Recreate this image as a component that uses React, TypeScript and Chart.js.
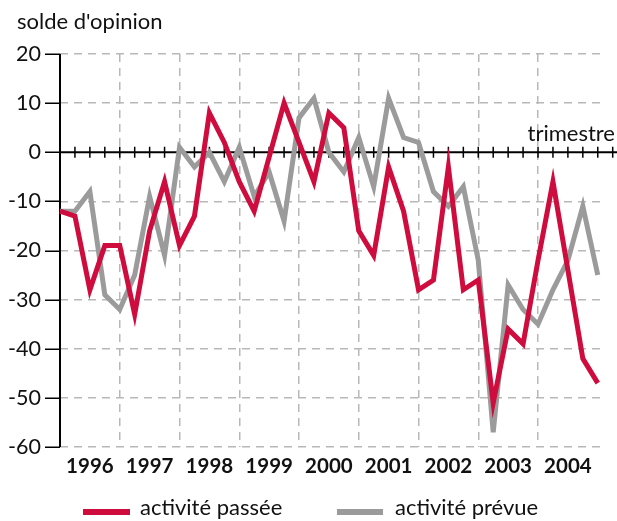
import React, { useEffect, useRef } from 'react';
import { Chart, registerables } from 'chart.js';

Chart.register(...registerables);

// Year labels (one per year, 4 quarters each)
const years = ['1996', '1997', '1998', '1999', '2000', '2001', '2002', '2003', '2004'];
// Y tick values
const yTicks = [20, 10, 0, -10, -20, -30, -40, -50, -60];

// activité passée (quarterly balance of opinion)
const activitePassee = [
  -12, -13, -28, -19, -19, -33, -16, -6, -19, -13, 8, 2, -6, -12, -1, 10, 2, -6, 8, 5,
  -16, -21, -3, -12, -28, -26, -3, -28, -26, -51, -36, -39, -22, -6, -24, -42, -47,
];
// activité prévue
const activitePrevue = [
  -12, -12, -8, -29, -32, -25, -9, -21, 1, -3, 0, -6, 1, -9, -4, -14, 7, 11, 0, -4,
  3, -7, 11, 3, 2, -8, -11, -7, -22, -57, -27, -32, -35, -28, -22, -11, -25,
];

const RED = '#cf0c3e';
const GREY = '#9b9b9b';
const GRID = '#b8b8b8';
const FONT = 'Lato, "Open Sans", "DejaVu Sans", sans-serif';
const TEXT = '#111111';

const axesPlugin = {
  id: 'customAxes',
  beforeDatasetsDraw(chart: any) {
    const { ctx, chartArea, scales } = chart;
    const xs = scales.x;
    const ys = scales.y;
    const y0 = ys.getPixelForValue(0);
    ctx.save();
    ctx.strokeStyle = '#000';
    ctx.setLineDash([]);
    // vertical y axis
    ctx.lineWidth = 2;
    ctx.beginPath();
    ctx.moveTo(chartArea.left, chartArea.top);
    ctx.lineTo(chartArea.left, chartArea.bottom);
    ctx.stroke();
    // y tick marks
    ctx.lineWidth = 1.5;
    yTicks.forEach((v) => {
      const py = Math.round(ys.getPixelForValue(v)) + 0.25;
      ctx.beginPath();
      ctx.moveTo(chartArea.left - 15, py);
      ctx.lineTo(chartArea.left, py);
      ctx.stroke();
    });
    // zero line
    ctx.lineWidth = 2;
    ctx.beginPath();
    ctx.moveTo(chartArea.left, y0);
    ctx.lineTo(chart.width, y0);
    ctx.stroke();
    // quarter tick marks on the zero line
    ctx.lineWidth = 1.5;
    for (let q = 1; q <= activitePassee.length; q++) {
      const px = xs.getPixelForValue(q);
      if (px > chart.width) break;
      ctx.beginPath();
      ctx.moveTo(px, y0 - 5.5);
      ctx.lineTo(px, y0 + 5.5);
      ctx.stroke();
    }
    ctx.restore();
  },
};

export default function App() {
  const canvasRef = useRef<HTMLCanvasElement | null>(null);

  useEffect(() => {
    if (!canvasRef.current) return;
    const chart = new Chart(canvasRef.current, {
      type: 'line',
      data: {
        datasets: [
          {
            label: 'activité passée',
            data: activitePassee.map((v, i) => ({ x: i, y: v })),
            borderColor: RED,
            backgroundColor: RED,
            borderWidth: 5,
            pointRadius: 0,
            tension: 0,
            borderJoinStyle: 'miter',
            clip: false as any,
          },
          {
            label: 'activité prévue',
            data: activitePrevue.map((v, i) => ({ x: i, y: v })),
            borderColor: GREY,
            backgroundColor: GREY,
            borderWidth: 5,
            pointRadius: 0,
            tension: 0,
            borderJoinStyle: 'miter',
            clip: false as any,
          },
        ],
      },
      options: {
        animation: false,
        responsive: true,
        maintainAspectRatio: false,
        layout: { padding: { top: 54, right: 14, bottom: 24, left: 0 } },
        plugins: {
          legend: { display: false },
          tooltip: { enabled: false },
          title: { display: false },
        },
        scales: {
          x: {
            type: 'linear',
            min: 0,
            max: 36.35,
            afterFit: (s: any) => {
              s.height = 50;
            },
            border: { display: false, dash: [8, 6] },
            grid: {
              drawTicks: false,
              lineWidth: 1.5,
              color: (c: any) => {
                const v = c.tick ? c.tick.value : -1;
                return v > 0 && v % 4 === 0 ? GRID : 'rgba(0,0,0,0)';
              },
            },
            ticks: {
              stepSize: 1,
              autoSkip: false,
              maxRotation: 0,
              padding: 7,
              color: TEXT,
              font: { family: FONT, size: 20.5, weight: 'bold' },
              callback: (value: any) => {
                const v = Number(value);
                if (Number.isInteger(v) && v % 4 === 2) {
                  const idx = (v - 2) / 4;
                  return years[idx] ?? '';
                }
                return '';
              },
            },
          },
          y: {
            min: -60,
            max: 20,
            afterFit: (s: any) => {
              s.width = 60;
            },
            border: { display: false, dash: [8, 6] },
            grid: {
              drawTicks: false,
              lineWidth: 1.5,
              color: (c: any) => (c.tick && c.tick.value === 0 ? 'rgba(0,0,0,0)' : GRID),
            },
            ticks: {
              stepSize: 10,
              padding: 19,
              color: TEXT,
              font: { family: FONT, size: 21.5 },
            },
          },
        },
      },
      plugins: [axesPlugin],
    });
    return () => chart.destroy();
  }, []);

  const textStyle: React.CSSProperties = {
    position: 'absolute',
    fontFamily: FONT,
    fontSize: 22,
    lineHeight: '20px',
    color: TEXT,
    whiteSpace: 'nowrap',
  };

  return (
    <div style={{ position: 'absolute', left: 0, top: 0, width: 617, height: 521, background: '#fff' }}>
      <canvas ref={canvasRef} />
      <div style={{ ...textStyle, left: 17, top: 11 }}>solde d'opinion</div>
      <div style={{ ...textStyle, right: 2, top: 123 }}>trimestre</div>
      <div style={{ position: 'absolute', left: 83, top: 509, width: 47, height: 6, background: RED }} />
      <div style={{ ...textStyle, left: 140, top: 497 }}>activité passée</div>
      <div style={{ position: 'absolute', left: 337, top: 509, width: 46, height: 6, background: GREY }} />
      <div style={{ ...textStyle, left: 395, top: 497 }}>activité prévue</div>
    </div>
  );
}
